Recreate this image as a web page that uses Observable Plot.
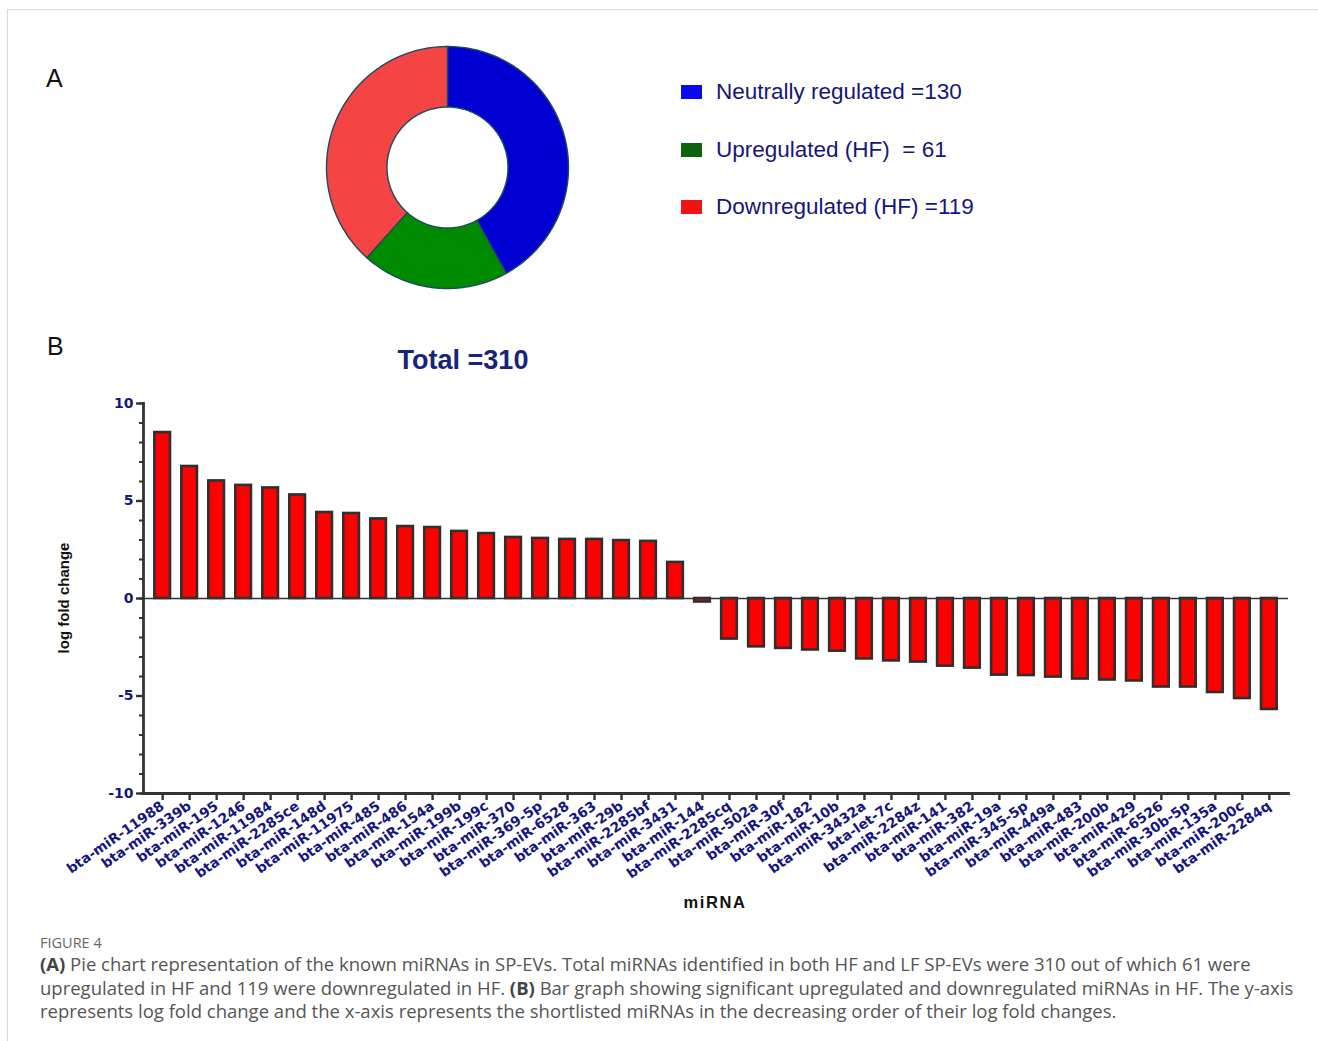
<!DOCTYPE html>
<html>
<head>
<meta charset="utf-8">
<script src="https://cdn.jsdelivr.net/npm/d3@7"></script>
<script src="https://cdn.jsdelivr.net/npm/@observablehq/plot@0.6"></script>
<style>
  body { margin: 0; background: #fff; }
  #page { position: relative; width: 1318px; height: 1041px; overflow: hidden; background: #fff;
          font-family: "Liberation Sans", Arial, sans-serif; }
  #card { position: absolute; left: 7px; top: 9px; width: 1320px; height: 1040px;
          border-left: 1px solid #d9d9d9; border-top: 1px solid #d9d9d9; }
  .panel { position: absolute; font-size: 25px; color: #111; }
  #donut { position: absolute; left: 322px; top: 42px; }
  .legend-row { position: absolute; left: 681px; height: 24px; display: flex; align-items: center;
                font-size: 22.5px; color: #16167a; white-space: pre; }
  .legend-row .sw { width: 21px; height: 14px; margin-right: 14px; }
  #total { position: absolute; left: 363px; width: 200px; top: 345px; text-align: center;
           font-size: 27px; font-weight: bold; color: #18237a; }
  #bars { position: absolute; left: 0; top: 380px; }
  #bars svg [aria-label="x-axis tick label"] text,
  #bars svg [aria-label="y-axis tick label"] text { font-weight: bold; }
  #ytitle { position: absolute; left: 63px; top: 598px; transform: translate(-50%, -50%) rotate(-90deg);
            font-family: "Liberation Sans Narrow", "Liberation Sans", Arial, sans-serif; font-stretch: condensed;
            font-weight: bold; font-size: 15px; color: #111; white-space: nowrap; }
  #xtitle { position: absolute; left: 615px; width: 200px; top: 893px; text-align: center;
            font-weight: bold; font-size: 16.5px; letter-spacing: 1.6px; color: #111; }
  #caption { position: absolute; left: 40px; top: 933px; font-family: "Open Sans", "Noto Sans", sans-serif;
             color: #555; }
  #caption .fig { font-size: 14.5px; color: #666; line-height: 19px; }
  #caption .txt { font-size: 18.5px; line-height: 23.5px; white-space: nowrap; }
  #caption b { font-weight: 700; color: #444; }
</style>
</head>
<body>
<div id="page">
  <div id="card"></div>
  <div class="panel" style="left:46px; top:64px;">A</div>
  <div class="panel" style="left:47px; top:332px;">B</div>
  <div id="donut"></div>
  <div id="legend"></div>
  <div id="total"></div>
  <div id="bars"></div>
  <div id="ytitle">log fold change</div>
  <div id="xtitle">miRNA</div>
  <div id="caption">
    <div class="fig">FIGURE 4</div>
    <div class="txt"><b>(A)</b> Pie chart representation of the known miRNAs in SP-EVs. Total miRNAs identified in both HF and LF SP-EVs were 310 out of which 61 were<br>upregulated in HF and 119 were downregulated in HF. <b>(B)</b> Bar graph showing significant upregulated and downregulated miRNAs in HF. The y-axis<br>represents log fold change and the x-axis represents the shortlisted miRNAs in the decreasing order of their log fold changes.</div>
  </div>
</div>
<script>
// ---- Panel A: miRNA groups ----
const pieGroups = ["Neutrally regulated", "Upregulated (HF)", "Downregulated (HF)"];
const pieCounts = [130, 61, 119];
const pieLegendPrefix = ["Neutrally regulated =", "Upregulated (HF)  = ", "Downregulated (HF) ="];
const pieColors = ["#0000d2", "#008a00", "#f44444"];
const legendColors = ["#0a0aee", "#0b640b", "#f21212"];

// ---- Panel B: significant miRNAs, in decreasing order of log fold change ----
const mirnaNames = [
  "bta-miR-11988", "bta-miR-339b", "bta-miR-195", "bta-miR-1246", "bta-miR-11984",
  "bta-miR-2285ce", "bta-miR-148d", "bta-miR-11975", "bta-miR-485", "bta-miR-486",
  "bta-miR-154a", "bta-miR-199b", "bta-miR-199c", "bta-miR-370", "bta-miR-369-5p",
  "bta-miR-6528", "bta-miR-363", "bta-miR-29b", "bta-miR-2285bf", "bta-miR-3431",
  "bta-miR-144", "bta-miR-2285cq", "bta-miR-502a", "bta-miR-30f", "bta-miR-182",
  "bta-miR-10b", "bta-miR-3432a", "bta-let-7c", "bta-miR-2284z", "bta-miR-141",
  "bta-miR-382", "bta-miR-19a", "bta-miR-345-5p", "bta-miR-449a", "bta-miR-483",
  "bta-miR-200b", "bta-miR-429", "bta-miR-6526", "bta-miR-30b-5p", "bta-miR-135a",
  "bta-miR-200c", "bta-miR-2284q"
];
const logFoldChange = [
  8.51, 6.77, 6.03, 5.8, 5.67,
  5.31, 4.41, 4.36, 4.08, 3.69,
  3.64, 3.44, 3.33, 3.13, 3.08,
  3.03, 3.03, 2.97, 2.93, 1.85,
  -0.18, -2.08, -2.48, -2.56, -2.64,
  -2.7, -3.1, -3.2, -3.26, -3.47,
  -3.57, -3.93, -3.95, -4.03, -4.13,
  -4.18, -4.23, -4.54, -4.54, -4.82,
  -5.13, -5.69
];
const yMajorTicks = [-10, -5, 0, 5, 10];
const yMinorTicks = [-10, -9, -8, -7, -6, -5, -4, -3, -2, -1, 0, 1, 2, 3, 4, 5, 6, 7, 8, 9, 10];

const navy = "#16167f";
const tickFont = "'DejaVu Sans', 'Liberation Sans', Arial, sans-serif";

// Donut ring: each slice becomes a closed outline (outer arc out, inner arc back)
const innerRatio = 0.5;
const arcs = d3.pie().sort(null)(pieCounts);
const ringPoints = [];
arcs.forEach((a, i) => {
  const steps = Math.max(8, Math.ceil((a.endAngle - a.startAngle) / 0.02));
  for (let s = 0; s <= steps; s++) {
    const t = a.startAngle + (a.endAngle - a.startAngle) * s / steps;
    ringPoints.push({group: pieGroups[i], x: Math.sin(t), y: Math.cos(t)});
  }
  for (let s = steps; s >= 0; s--) {
    const t = a.startAngle + (a.endAngle - a.startAngle) * s / steps;
    ringPoints.push({group: pieGroups[i], x: innerRatio * Math.sin(t), y: innerRatio * Math.cos(t)});
  }
});

const donut = Plot.plot({
  width: 250, height: 250, margin: 4,
  style: {background: "transparent"},
  x: {domain: [-1, 1], axis: null},
  y: {domain: [-1, 1], axis: null},
  color: {domain: pieGroups, range: pieColors},
  marks: [
    Plot.line(ringPoints, {x: "x", y: "y", z: "group", fill: "group", stroke: "#1d4b5b",
                           strokeWidth: 1.4, curve: "linear-closed"})
  ]
});
document.getElementById("donut").appendChild(donut);

// Legend for the donut
const legend = document.getElementById("legend");
const legendCentres = [92, 150, 207];
pieGroups.forEach((g, i) => {
  const row = document.createElement("div");
  row.className = "legend-row";
  row.style.top = (legendCentres[i] - 12) + "px";
  const sw = document.createElement("span");
  sw.className = "sw";
  sw.style.background = legendColors[i];
  const label = document.createElement("span");
  label.textContent = pieLegendPrefix[i] + pieCounts[i];
  row.appendChild(sw);
  row.appendChild(label);
  legend.appendChild(row);
});

document.getElementById("total").textContent = "Total =" + d3.sum(pieCounts);

// Bar chart of log fold changes
const barData = mirnaNames.map((name, i) => ({name, value: logFoldChange[i]}));
const bars = Plot.plot({
  width: 1318, height: 540,
  marginTop: 23, marginBottom: 127, marginLeft: 143, marginRight: 30,
  style: {background: "transparent", fontFamily: "'Liberation Sans', Arial, sans-serif", overflow: "visible"},
  x: {domain: mirnaNames, padding: 0.42, label: null},
  y: {domain: [-10, 10], label: null},
  marks: [
    Plot.barY(barData, {x: "name", y: "value", fill: "#ff0000", stroke: "#2f2f2f", strokeWidth: 2.6}),
    Plot.ruleY([0], {stroke: "#333", strokeWidth: 1.6}),
    Plot.axisY(yMinorTicks, {tickSize: 4, tickFormat: () => "", stroke: "#333", strokeWidth: 2, label: null}),
    Plot.axisY(yMajorTicks, {tickSize: 7, tickPadding: 3, stroke: "#333", strokeWidth: 2.4,
                             tickFormat: (d) => String(d),
                             fill: navy, fontFamily: tickFont, fontSize: 14, fontWeight: "bold", label: null}),
    Plot.axisX({tickSize: 7, tickPadding: 4, tickRotate: -35, stroke: "#333", strokeWidth: 2.4,
                fill: navy, fontFamily: tickFont, fontSize: 13.8, fontWeight: "bold", label: null}),
    Plot.frame({anchor: "left", stroke: "#333", strokeWidth: 2.8}),
    Plot.frame({anchor: "bottom", stroke: "#333", strokeWidth: 2.8})
  ]
});
document.getElementById("bars").appendChild(bars);
</script>
</body>
</html>
